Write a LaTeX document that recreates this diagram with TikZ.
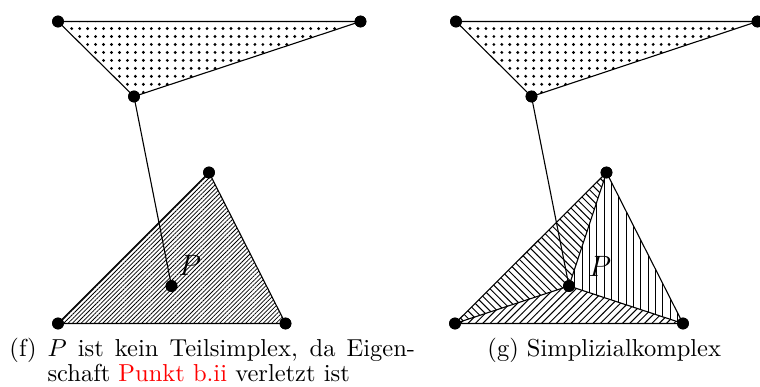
\documentclass[tikz,border=0pt]{standalone}
\usepackage{xcolor}
\usetikzlibrary{patterns,patterns.meta}

\begin{document}
\begin{tikzpicture}[
    x=0.408pt, y=-0.408pt,
    vertex/.style={circle, fill=black, inner sep=0pt, minimum size=4.8pt},
    edge/.style={draw, line width=0.45pt},
    dotted face/.style={pattern={Dots[distance=3.25pt, radius=0.65pt]}},
    dense/.style={pattern={Lines[angle=45, distance=1.25pt, line width=0.3pt]}},
    plabel/.style={font=\large, inner sep=0pt},
    caption/.style={anchor=base west, inner sep=0pt, font=\fontsize{10}{10.6}\selectfont}
]
\useasboundingbox (0,0) rectangle (760,387);

% Left figure: vertices
\node[vertex] (fa) at (58,21.5) {};
\node[vertex] (fb) at (360.5,21.5) {};
\node[vertex] (fc) at (134,96.5) {};
\node[vertex] (fd) at (58,323.5) {};
\node[vertex] (fe) at (209,172.5) {};
\node[vertex] (ff) at (285.5,323.5) {};
\node[vertex] (fp) at (171.5,286) {};

% Left figure: faces
\fill[dotted face] (fa.center) -- (fb.center) -- (fc.center) -- cycle;
\fill[dense] (fd.center) -- (fe.center) -- (ff.center) -- cycle;
\draw[edge] (fa.center) -- (fb.center) -- (fc.center) -- cycle;
\draw[edge] (fd.center) -- (fe.center) -- (ff.center) -- cycle;
\draw[edge] (fc.center) -- (fp.center);
\node[plabel] (fplabel) at (190,265) {$P$};

% Right figure: vertices
\node[vertex] (ga) at (456,21.5) {};
\node[vertex] (gb) at (757.5,21.5) {};
\node[vertex] (gc) at (531.5,96.5) {};
\node[vertex] (gd) at (455,323.5) {};
\node[vertex] (ge) at (606.5,172.5) {};
\node[vertex] (gf) at (683,323.5) {};
\node[vertex] (gp) at (569,286) {};

% Right figure: faces
\fill[dotted face] (ga.center) -- (gb.center) -- (gc.center) -- cycle;
\fill[pattern=north west lines] (gd.center) -- (ge.center) -- (gp.center) -- cycle;
\fill[pattern=north east lines] (gd.center) -- (gp.center) -- (gf.center) -- cycle;
\fill[pattern=vertical lines] (ge.center) -- (gf.center) -- (gp.center) -- cycle;
\draw[edge] (ga.center) -- (gb.center) -- (gc.center) -- cycle;
\draw[edge] (gd.center) -- (ge.center) -- (gf.center) -- cycle;
\draw[edge] (gd.center) -- (gp.center);
\draw[edge] (ge.center) -- (gp.center);
\draw[edge] (gf.center) -- (gp.center);
\draw[edge] (gc.center) -- (gp.center);
\node[plabel] (gplabel) at (600,266) {$P$};

% Dots on top
\foreach \v in {fa,fb,fc,fd,fe,ff,fp,ga,gb,gc,gd,ge,gf,gp}
    \node[vertex] at (\v) {};

% Captions
\node[caption] (capf) at (9,356) {(f)\hspace{4.4pt}\parbox[t]{150pt}{$P$ ist kein Teilsimplex, da Eigen-\linebreak schaft \textcolor{red}{Punkt b.ii} verletzt ist}};
\node[caption] (capg) at (487,356) {(g) Simplizialkomplex};

\end{tikzpicture}
\end{document}
